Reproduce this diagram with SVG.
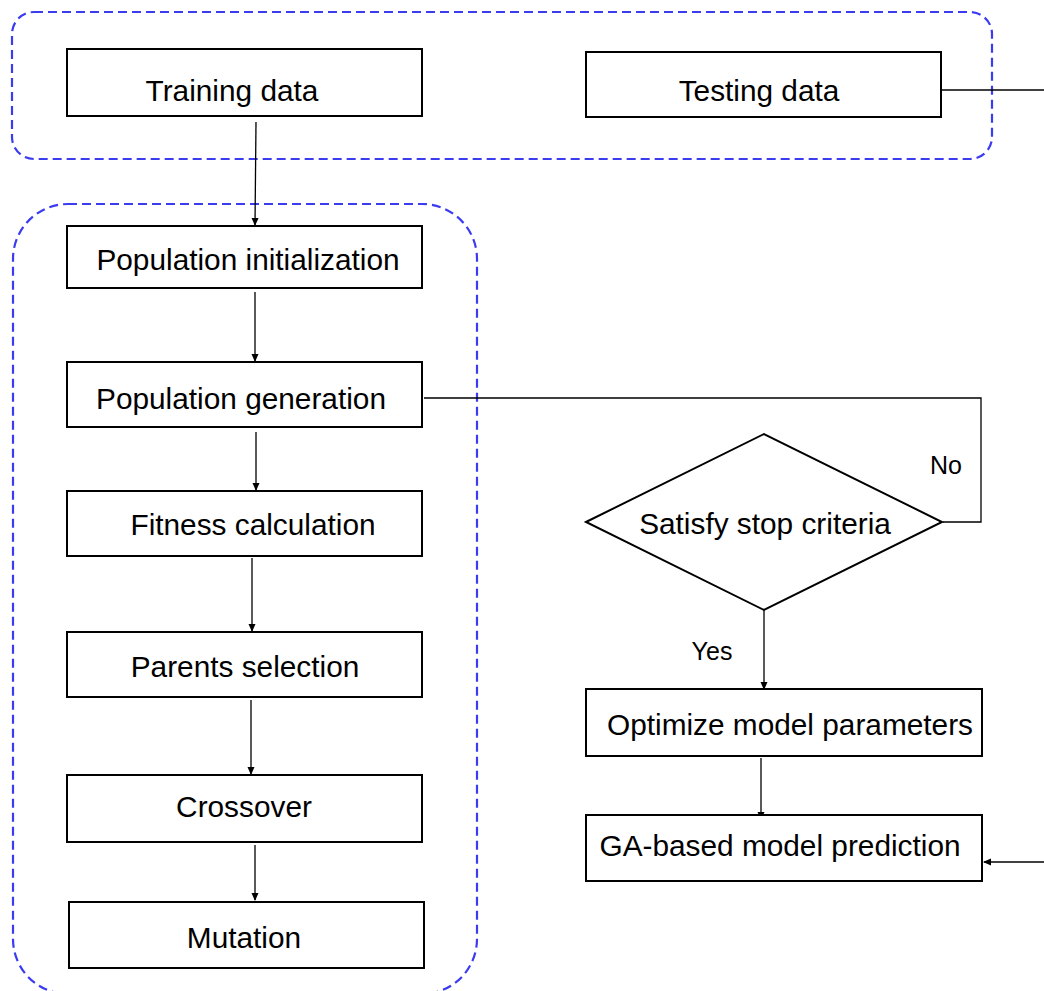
<svg xmlns="http://www.w3.org/2000/svg" width="1044" height="991" viewBox="0 0 1044 991">
<style>
.grp{fill:none;stroke:#3b3bf0;stroke-width:2.2;stroke-dasharray:9 5}
.box{fill:#fff;stroke:#000;stroke-width:2}
.t{font-family:"Liberation Sans",Arial,sans-serif;font-size:29.8px;fill:#000;text-anchor:middle}
.l{font-family:"Liberation Sans",Arial,sans-serif;font-size:25px;fill:#000;text-anchor:middle}
.c{fill:none;stroke:#000;stroke-width:1.3}
</style>
<defs>
<marker id="ah" markerWidth="8" markerHeight="8" refX="7" refY="4" orient="auto" markerUnits="userSpaceOnUse">
<path d="M0,0.5 L8,4 L0,7.5 Z" fill="#000"/>
</marker>
</defs>
<rect fill="#fff" x="0" y="0" width="1044" height="991"/>
<g id="groups">
<rect class="grp" x="12" y="12" width="980" height="147" rx="22"/>
<rect class="grp" x="13" y="204" width="464" height="790" rx="55"/>
</g>
<g id="connectors">
<path class="c" d="M256,122 L255,225" marker-end="url(#ah)"/>
<path class="c" d="M255,292 L255,361" marker-end="url(#ah)"/>
<path class="c" d="M256,432 L256,490" marker-end="url(#ah)"/>
<path class="c" d="M252,558 L252,631" marker-end="url(#ah)"/>
<path class="c" d="M251,700 L251,774" marker-end="url(#ah)"/>
<path class="c" d="M255,845 L255,900" marker-end="url(#ah)"/>
<path class="c" d="M942,90 L1044,90"/>
<path class="c" d="M424,398 L981,398 L981,522 L943,522"/>
<path class="c" d="M764,610 L764,689" marker-end="url(#ah)"/>
<path class="c" d="M761,758 L761,819" marker-end="url(#ah)"/>
<path class="c" d="M1044,862 L984,862" marker-end="url(#ah)"/>
<text class="l" x="946" y="474">No</text>
<text class="l" x="712" y="660">Yes</text>
</g>
<g id="training"><rect class="box" x="67" y="49" width="355" height="67"/><text class="t" x="232" y="101">Training data</text></g>
<g id="testing"><rect class="box" x="586" y="52" width="355" height="65"/><text class="t" x="759" y="101">Testing data</text></g>
<g id="popinit"><rect class="box" x="67" y="226" width="355" height="62"/><text class="t" x="248" y="270">Population initialization</text></g>
<g id="popgen"><rect class="box" x="67" y="362" width="355" height="65"/><text class="t" x="241" y="409">Population generation</text></g>
<g id="fitness"><rect class="box" x="67" y="491" width="355" height="65"/><text class="t" x="253" y="535">Fitness calculation</text></g>
<g id="parents"><rect class="box" x="67" y="632" width="355" height="65"/><text class="t" x="245" y="677">Parents selection</text></g>
<g id="crossover"><rect class="box" x="67" y="775" width="355" height="67"/><text class="t" x="244" y="817">Crossover</text></g>
<g id="mutation"><rect class="box" x="69" y="902" width="355" height="66"/><text class="t" x="244" y="948">Mutation</text></g>
<g id="decision"><polygon class="box" points="586,522 764,434 942,522 764,610"/><text class="t" x="765" y="534">Satisfy stop criteria</text></g>
<g id="optimize"><rect class="box" x="586" y="689" width="396" height="67"/><text class="t" x="790" y="735">Optimize model parameters</text></g>
<g id="prediction"><rect class="box" x="586" y="815" width="396" height="66"/><text class="t" x="780" y="856">GA-based model prediction</text></g>
</svg>
